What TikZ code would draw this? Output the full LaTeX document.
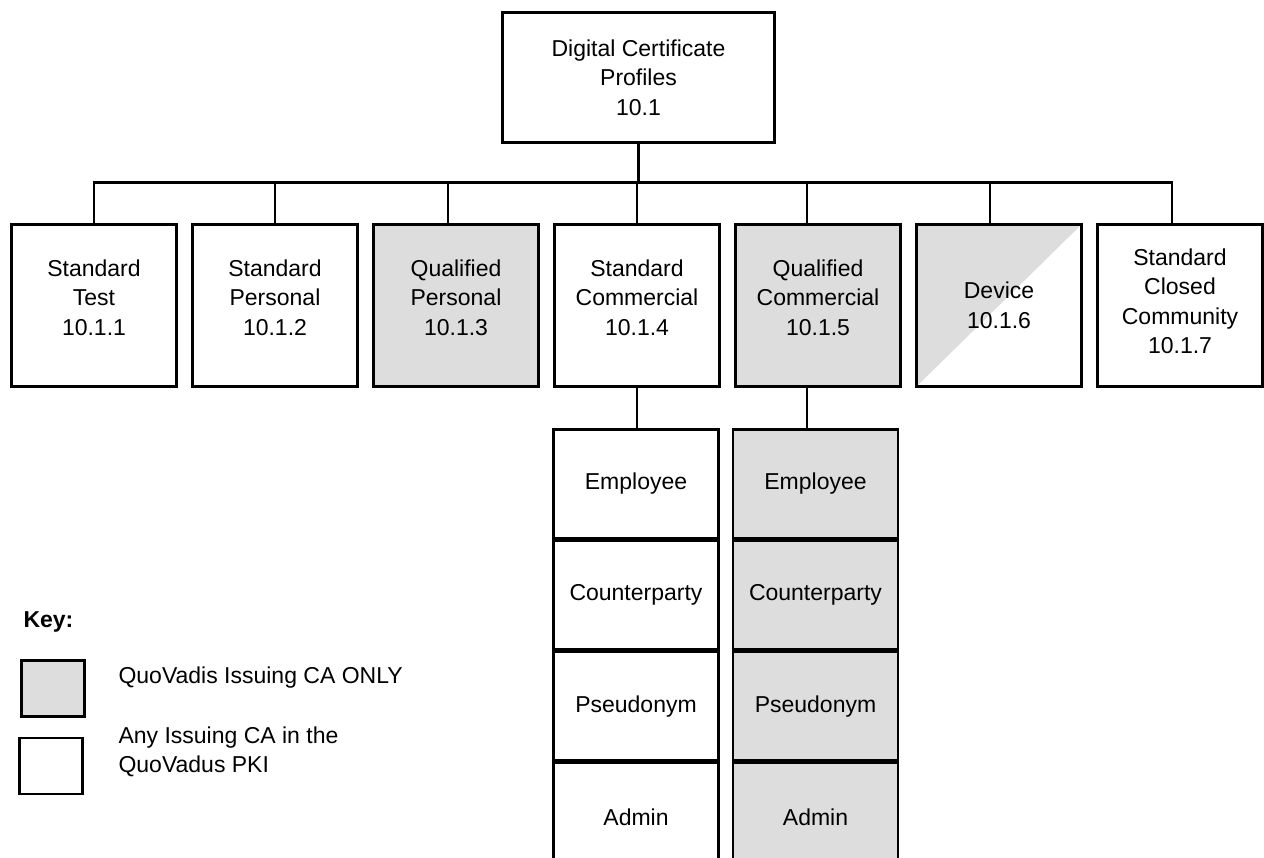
\documentclass[tikz,border=0pt]{standalone}
\usepackage{fontspec}
\setmainfont{Liberation Sans}
\usetikzlibrary{positioning}
\definecolor{qvgray}{RGB}{221,221,221}

\begin{document}
\begin{tikzpicture}[x=1pt,y=-1pt,line width=2.4pt,
    font=\fontsize{23}{29.5}\selectfont,
    box/.style={draw,minimum width=165pt,minimum height=162pt,inner sep=0pt},
    tx/.style={align=center,yshift=8pt},
    sub/.style={draw,minimum width=165pt,minimum height=108.7pt,inner sep=0pt},
    keybox/.style={draw,minimum width=63pt,minimum height=56pt,inner sep=0pt}]
  \useasboundingbox (0,0) rectangle (1264,858);
  \node[draw,minimum width=272pt,minimum height=130pt,align=center] (top) at (638.5,77.5)
    {Digital Certificate\\Profiles\\10.1};
  \coordinate (bus) at (637,182.5);
  % profiles
  \node[box,label={[tx]center:Standard\\Test\\10.1.1}] (stest) at (94,305.5) {};
  \node[box,label={[tx]center:Standard\\Personal\\10.1.2}] (spers) at (275,305.5) {};
  \node[box,fill=qvgray,label={[tx]center:Qualified\\Personal\\10.1.3}] (qpers) at (456,305.5) {};
  \node[box,label={[tx]center:Standard\\Commercial\\10.1.4}] (scomm) at (637,305.5) {};
  \node[box,fill=qvgray,label={[tx]center:Qualified\\Commercial\\10.1.5}] (qcomm) at (818,305.5) {};
  \node[box,align=center,path picture={\fill[qvgray] (path picture bounding box.south west)
      -- (path picture bounding box.north east) -| (path picture bounding box.south west);}]
    (dev) at (999,305.5) {Device\\10.1.6};
  \node[box,label={[tx,yshift=-4pt]center:Standard\\Closed\\Community\\10.1.7}] (sccom) at (1180,305.5) {};
  \draw (top.south) -- (top.south |- bus);
  \draw (stest.north) |- (bus);
  \draw (spers.north) |- (bus);
  \draw ([xshift=-8pt]qpers.north) |- (bus);
  \draw (scomm.north) |- (bus);
  \draw ([xshift=-11pt]qcomm.north) |- (bus);
  \draw ([xshift=-9pt]dev.north) |- (bus);
  \draw ([xshift=-8pt]sccom.north) |- (bus);
  % sub profiles
  \node[sub,anchor=north] (semp) at (636,428.5) {Employee};
  \node[sub,below=0pt of semp] (scpty) {Counterparty};
  \node[sub,below=0pt of scpty] (spsd) {Pseudonym};
  \node[sub,below=0pt of spsd] (sadm) {Admin};
  \node[sub,fill=qvgray,anchor=north] (qemp) at (815.5,428.5) {Employee};
  \node[sub,fill=qvgray,below=0pt of qemp] (qcpty) {Counterparty};
  \node[sub,fill=qvgray,below=0pt of qcpty] (qpsd) {Pseudonym};
  \node[sub,fill=qvgray,below=0pt of qpsd] (qadm) {Admin};
  \draw (scomm.south) -- (scomm.south |- semp.north);
  \draw ([xshift=-11pt]qcomm.south) -- ([xshift=-11pt]qcomm.south |- qemp.north);
  % key
  \node[anchor=west,font=\fontsize{23}{29.5}\selectfont\bfseries] (key) at (19,622) {Key:};
  \node[keybox,fill=qvgray] (kqv) at (53,688.5) {};
  \node[keybox] (kany) at (51,766) {};
  \node[anchor=west] (tqv) at (114,678) {QuoVadis Issuing CA ONLY};
  \node[anchor=west,align=left] (tany) at (114,752) {Any Issuing CA in the\\QuoVadus PKI};
\end{tikzpicture}
\end{document}
